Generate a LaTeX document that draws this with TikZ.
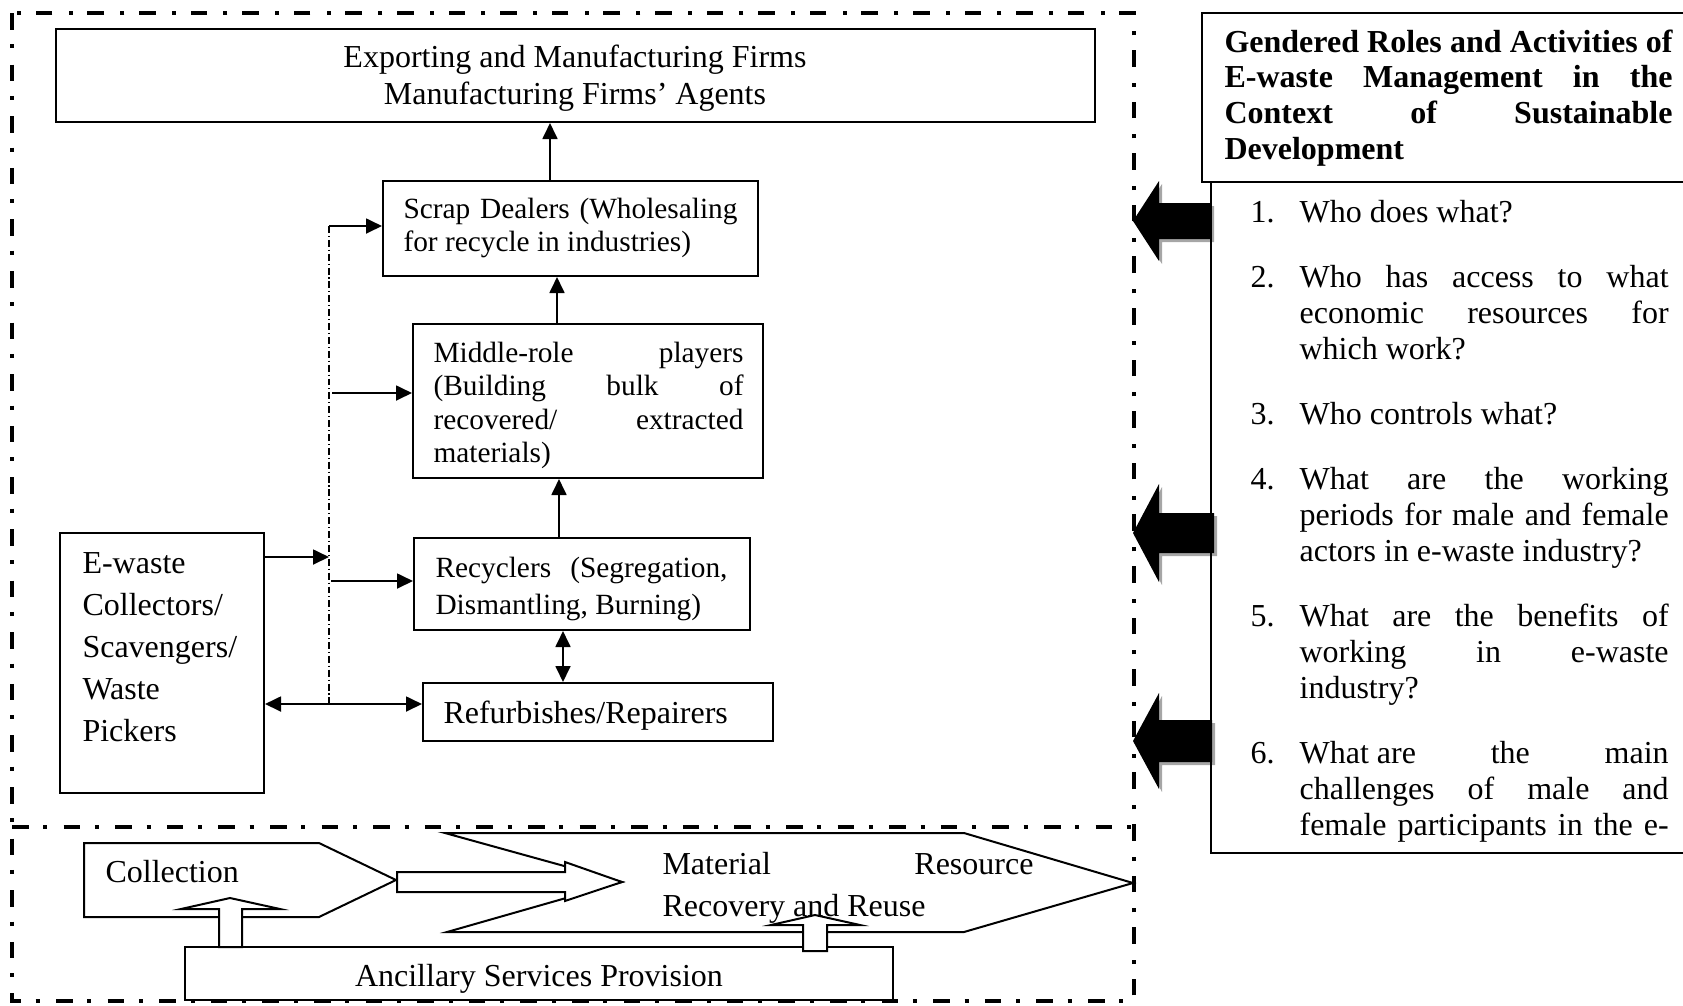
\documentclass[tikz,border=0pt]{standalone}
\usepackage{fontspec}
\setmainfont{Liberation Serif}
\usetikzlibrary{arrows.meta,fit,calc}
\newcommand{\ns}{\spaceskip=\fontdimen2\font\xspaceskip=\fontdimen2\font\relax}
\newcommand{\jline}[2]{{\spaceskip=\fontdimen2\font plus 1fil\xspaceskip=\fontdimen2\font plus 1fil\relax\makebox[#1][s]{#2}}}
\begin{document}
\begin{tikzpicture}[x=0.375pt,y=-0.375pt,
  box/.style={draw, line width=0.75pt, inner sep=0pt},
  arr/.style={line width=0.75pt, -{Triangle[length=6pt,width=5.6pt]}},
  darr/.style={line width=0.75pt, {Triangle[length=6pt,width=5.6pt]}-{Triangle[length=6pt,width=5.6pt]}},
  ddframe/.style={line width=1.5pt, dash pattern=on 6.25pt off 5.5pt on 1.5pt off 6.1pt},
  thindd/.style={line width=0.45pt, dash pattern=on 2.6pt off 1.1pt on 0.4pt off 1.1pt},
  txt/.style={inner sep=0pt, align=left, anchor=base west},
  blk/.style={draw, line width=0.75pt, fill=white},
  f12/.style={font=\fontsize{12pt}{#1}\selectfont},
  f11/.style={font=\fontsize{11pt}{#1}\selectfont}
]
\useasboundingbox (0,0) rectangle (1683,1005);
\clip (0,0) rectangle (1683,1005);

% outer dash-dot frame and separator
\draw[ddframe] (12,13) rectangle (1134,1001);
\draw[ddframe] (12,827) -- (1134,827);

% boxes
\node[box, fit={(56,29) (1095,122)}] (top) {};
\node[box, fit={(383,181) (758,276)}] (scrap) {};
\node[box, fit={(413,324) (763,478)}] (middle) {};
\node[box, fit={(414,538) (750,630)}] (recyc) {};
\node[box, fit={(423,683) (773,741)}] (refurb) {};
\node[box, fit={(60,533) (264,793)}] (ewaste) {};

% helper coordinates
\coordinate (ax1) at (550,0);
\coordinate (ax2) at (557,0);
\coordinate (ax3) at (559,0);
\coordinate (ax4) at (563,0);
\coordinate (dtop) at (329,226);
\coordinate (dbot) at (329,705);
\coordinate (dm) at (332,393);
\coordinate (de) at (329,557);
\coordinate (dr) at (331,581);
\coordinate (dh) at (329,704);

% connectors
\draw[arr] (scrap.north -| ax1) -- (top.south -| ax1);
\draw[arr] (middle.north -| ax2) -- (scrap.south -| ax2);
\draw[arr] (recyc.north -| ax3) -- (middle.south -| ax3);
\draw[darr] (recyc.south -| ax4) -- (refurb.north -| ax4);
\draw[thindd] (dtop) -- (dbot);
\draw[arr] (dtop) -- (dtop -| scrap.west);
\draw[arr] (dm) -- (dm -| middle.west);
\draw[arr] (de -| ewaste.east) -- (de);
\draw[arr] (dr) -- (dr -| recyc.west);
\draw[darr] (dh -| ewaste.east) -- (dh -| refurb.west);

% texts of the flow boxes
\node[txt, anchor=base, align=center, text width=200pt, f12=13.9pt] (topt) at (575,67)
  {\ns Exporting and Manufacturing Firms\\Manufacturing Firms’ Agents};
\node[txt, text width=130pt, f11=12.4pt] (scrapt) at (403,218)
  {\ns\jline{125.25pt}{Scrap Dealers (Wholesaling}\\for recycle in industries)};
\node[txt, text width=120pt, f11=12.6pt] (middlet) at (433,362)
  {\ns\jline{116.25pt}{Middle-role players}\\\jline{116.25pt}{(Building bulk of}\\\jline{116.25pt}{recovered/ extracted}\\materials)};
\node[txt, text width=115pt, f11=14.2pt] (recyct) at (435,577)
  {\ns\jline{109.5pt}{Recyclers (Segregation,}\\Dismantling, Burning)};
\node[txt, text width=120pt, f12=14pt] (refurbt) at (443,723) {\ns Refurbishes/Repairers};
\node[txt, text width=70pt, f12=15.75pt] (ewastet) at (82,573)
  {\ns E-waste\\Collectors/\\Scavengers/\\Waste\\Pickers};

% bottom process
\draw[blk] (84,843) -- (319,843) -- (396,880) -- (319,917) -- (84,917) -- cycle;
\draw[blk] (445,833) -- (964,833) -- (1133,883) -- (964,932) -- (447,932) -- (622,882) -- cycle;
\draw[blk] (397,872) -- (565,872) -- (565,862) -- (622,882) -- (565,901) -- (565,892) -- (397,892) -- cycle;
\node[box, fit={(185,947) (893,1000)}] (ancil) {};
\draw[blk] (219,947) -- (219,909) -- (181,909) -- (230,898) -- (280,909) -- (242,909) -- (242,947) -- cycle;
\draw[blk] (803,951) -- (803,925) -- (771,925) -- (815,915) -- (860,925) -- (827,925) -- (827,951) -- cycle;
\node[txt, text width=80pt, f12=14pt] (collt) at (105,882) {\ns Collection};
\node[txt, text width=145pt, f12=16.1pt] (matt) at (662,874)
  {\ns\jline{139.1pt}{Material Resource}\\Recovery and Reuse};
\node[txt, anchor=base, align=center, text width=200pt, f12=14pt] (ancilt) at (539,986)
  {\ns Ancillary Services Provision};

% right panel: big arrows with shadow
\foreach \yc/\hh/\sh/\re in {221/40/18/1211, 533/49/20/1214, 741/48/21/1212} {
  \fill[black!35, shift={(3,3)}] (1133,\yc) -- (1159,{\yc-\hh}) -- (1159,{\yc-\sh}) -- (\re,{\yc-\sh})
     -- (\re,{\yc+\sh}) -- (1159,{\yc+\sh}) -- (1159,{\yc+\hh}) -- cycle;
  \fill[black] (1133,\yc) -- (1159,{\yc-\hh}) -- (1159,{\yc-\sh}) -- (\re,{\yc-\sh})
     -- (\re,{\yc+\sh}) -- (1159,{\yc+\sh}) -- (1159,{\yc+\hh}) -- cycle;
}
\node[box, fit={(1202,13) (1720,182)}] (title) {};
\node[box, fit={(1211,182) (1720,853)}] (quest) {};

\node[txt, text width=170pt, font=\bfseries\fontsize{12pt}{13.4pt}\selectfont] (titlet) at (1224,52)
  {\ns\jline{168pt}{Gendered Roles and Activities of}\\\jline{168pt}{E-waste Management in the}\\\jline{168pt}{Context of Sustainable}\\Development};

\node[txt, text width=160pt, f12=13.5pt] (questt) at (1250,222)
  {\ns\makebox[18.4pt][l]{1.}Who does what?\\[10.9pt]
   \makebox[18.4pt][l]{2.}\jline{138.4pt}{Who has access to what}\\
   \hspace*{18.4pt}\jline{138.4pt}{economic resources for}\\
   \hspace*{18.4pt}which work?\\[10.9pt]
   \makebox[18.4pt][l]{3.}Who controls what?\\[10.9pt]
   \makebox[18.4pt][l]{4.}\jline{138.4pt}{What are the working}\\
   \hspace*{18.4pt}\jline{138.4pt}{periods for male and female}\\
   \hspace*{18.4pt}actors in e-waste industry?\\[10.9pt]
   \makebox[18.4pt][l]{5.}\jline{138.4pt}{What are the benefits of}\\
   \hspace*{18.4pt}\jline{138.4pt}{working in e-waste}\\
   \hspace*{18.4pt}industry?\\[10.9pt]
   \makebox[18.4pt][l]{6.}\jline{138.4pt}{\mbox{What are} the main}\\
   \hspace*{18.4pt}\jline{138.4pt}{challenges of male and}\\
   \hspace*{18.4pt}\jline{138.4pt}{female participants in the e-}};
\end{tikzpicture}
\end{document}
